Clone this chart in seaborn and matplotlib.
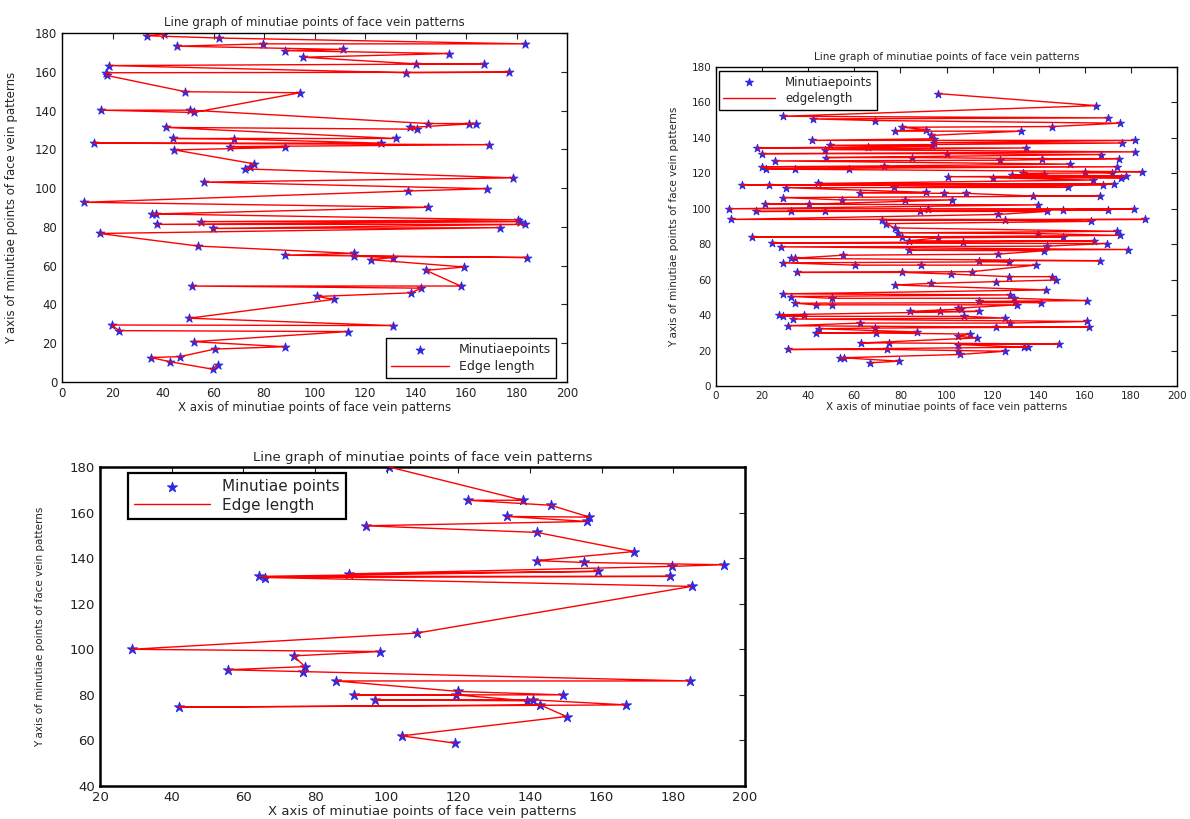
import numpy as np
import pandas as pd
import matplotlib
matplotlib.use('Agg')
import matplotlib.pyplot as plt
import seaborn as sns

# top left panel: minutiae points, in drawing order
left_x = [40.4, 33.6, 62.3, 183.2, 79.6, 45.5, 111.2, 88.3, 153.3, 95.6, 140, 167, 18.8,
          136.4, 177.2, 17.4, 17.8, 48.9, 94.2, 52.1, 15.6, 50.7, 145.1, 161.3, 163.8,
          138, 140.4, 41.2, 132.1, 44.1, 68.2, 126.3, 12.7, 169.2, 66.7, 88.3, 44.5,
          76.2, 74.4, 72.6, 178.8, 56.2, 168.2, 137.2, 8.6, 145.1, 37.2, 35.8, 180.6,
          55, 181.3, 37.5, 183.5, 59.7, 173.3, 14.9, 54, 115.6, 88.3, 184.2, 115.6,
          131.2, 122.2, 159.4, 144.1, 157.9, 51.4, 142.3, 138.2, 101, 107.6, 50.3,
          131.2, 19.7, 22.6, 113.1, 52.1, 88.3, 60.6, 46.7, 35.3, 42.9, 59.7, 61.6]
left_y = [179.5, 178.6, 177.4, 174.4, 174.4, 173.2, 171.5, 170.9, 169.4, 167.5, 164.1, 164.1, 163.2,
          159.5, 159.8, 159.5, 158.1, 149.7, 149.2, 139, 140.2, 140.2, 133.3, 133.3, 133.3,
          131.3, 130.4, 131.3, 125.6, 125.6, 125.3, 123.2, 123.2, 122.4, 121.4, 121, 119.7,
          112.5, 110.8, 109.9, 105.3, 103.1, 99.7, 98.5, 92.7, 90.1, 86.7, 86.7, 83.6,
          82.7, 82.7, 81.3, 81.3, 79.2, 79.6, 76.6, 70.1, 66.3, 65.4, 64.2, 64.9,
          64.2, 63.1, 59.3, 57.6, 49.5, 49.5, 48.4, 46, 44.1, 42.6, 32.9,
          29.1, 29.4, 26.5, 26, 20.8, 18.2, 17, 13.1, 12.6, 10.4, 6.6, 8.7]

# top right panel: minutiae points (joined from top to bottom)
right_x = [96.2, 164.9, 28.9, 42.2, 69.1, 170.2, 175.2, 145.9, 80.5, 77.5, 91.2, 132.2, 93.2,
           94.7, 41.5, 181.6, 176.3, 94.7, 93.5, 49.4, 66.1, 17.9, 47.1, 134.5, 181.6, 19.8,
           100.3, 167.2, 25.8, 47.9, 85.1, 141.3, 174.8, 123.1, 153.5, 19.8, 21.7, 34.2,
           57.8, 72.9, 174, 184.7, 160.3, 133, 171.7, 128.4, 100.8, 177.8, 175.5, 120.1,
           142.1, 11.4, 22.8, 30.4, 44.1, 77.1, 163.4, 168, 172.5, 152.7, 62.3, 91.2, 98.8,
           28.9, 54.7, 82.1, 102.6, 108.4, 137.5, 166.4, 40.3, 21.3, 5.6, 17.2, 32.7, 47.1,
           88.6, 91.9, 139.8, 143.6, 150.5, 170.2, 181.3,
           6.5, 72.2, 73.7, 122.3, 125.4, 162.6, 186.2, 77.5, 79, 80.5, 15.6, 174, 175.2,
           139.8, 150.5, 96.5, 107.1, 83.6, 164.1, 24.3, 28.1, 83.6, 142.1, 143.6, 169.5,
           178.6, 55.2, 32.7, 34.2, 122.3, 166.4, 28.9, 60.3, 88.9, 114, 126.9, 138.8, 35,
           80.5, 101.8, 110.9, 126.9, 145.9, 147.4, 77.5, 93.2, 121.6, 143.3, 28.9, 32.7,
           50.2, 127.7, 129.2, 114, 161.1, 34.2, 43.3, 50.2, 130.7, 140.9, 129.9, 104.9,
           106.4, 84.3, 97.3, 114, 27.4, 28.9, 38, 107.8, 125.4, 33.4, 127.7, 161.1, 62.3,
           31.2, 121.6, 161.8, 44.8, 43.3, 69.1, 69.4, 87.4, 104.9, 110.2, 113.2, 63.1,
           75.2, 148.9, 104.9, 133.7, 135.3, 31.2, 74.4, 104.9, 105.9, 125.4, 53.9, 55.5,
           79.5, 66.9]
right_y = [165, 158.2, 152.2, 150.7, 149.8, 151.3, 148.3, 146.4, 146, 143.8, 144.7, 143.8, 141.4,
           139.5, 138.6, 138.6, 137.1, 137.3, 135.4, 135.8, 134.9, 134.3, 133.4, 134.3, 132.1, 131.1,
           131.1, 130.6, 127, 128.9, 128.9, 128.3, 128.3, 127.4, 125.2, 123.7, 122.4, 122.7,
           122.7, 124.2, 123.7, 120.9, 120.9, 120, 120.3, 119, 118.1, 118.6, 117.5, 117.5,
           119.4, 113.4, 113.4, 111.9, 114.3, 112.1, 116.2, 113.4, 114, 112.1, 109.1, 109.3, 108.7,
           106.3, 105, 105, 105, 108.7, 107.2, 107.2, 102.6, 102.6, 100, 98.5, 98.8, 98.8,
           98.8, 100, 102.2, 98.5, 99.4, 99.4, 100,
           94, 93.5, 91.6, 96.8, 93.5, 92.9, 94, 89.2, 86.4, 84.1, 84.1, 87.3, 85,
           86, 84.1, 83.6, 81.3, 81.9, 81.9, 80.7, 78.5, 76.6, 76.3, 78.9, 80.4,
           77, 73.8, 72, 72, 74.4, 70.7, 69.5, 68.2, 68.2, 70.7, 70.1, 68.2, 64.1,
           64.1, 63.2, 64.5, 61.7, 61.7, 59.8, 57, 57.9, 58.9, 54.2, 52, 50.5,
           49.5, 51.4, 49.5, 47.7, 48.2, 46.7, 45.8, 45.8, 45.8, 47.1, 47.3, 43.9,
           43.4, 42.1, 42.1, 42.1, 40.2, 39.3, 39.8, 39.3, 38.3, 37.8, 35.5, 36.4, 35.5,
           34, 33.3, 33.3, 32.3, 29.9, 32.7, 29.9, 30.5, 28, 29.3, 27.1, 24.3,
           24.3, 23.7, 23.4, 21.9, 21.9, 20.6, 20.6, 20, 17.8, 19.6, 15.9, 15.9,
           14, 13.1]

# bottom panel: minutiae points, in drawing order
bottom_x = [100.7, 138, 122.8, 145.8, 156.6, 133.5, 156, 94.1, 141.9, 169, 141.9, 155.1, 194,
            179.7, 89.5, 159.1, 64.5, 179.1, 66, 185.1, 108.4, 28.8, 98, 74, 77.2, 55.6, 76.7,
            184.7, 85.9, 120, 149.1, 91, 119.3, 139.1, 96.7, 140.9, 166.8, 42, 142.8, 150.2,
            104.2, 119.1]
bottom_y = [180, 165.4, 165.4, 163.2, 158, 158.3, 156.1, 154.2, 151.3, 142.9, 138.9, 138.1, 137.1,
            136.4, 133.1, 134.2, 132, 132, 131.5, 127.6, 107.1, 100, 99, 97.1, 92.4, 91, 90.2,
            86.1, 86.1, 81.5, 80, 80, 80, 77.4, 77.8, 77.8, 75.6, 74.6, 75.6, 70.5,
            62, 58.8]

TITLE = 'Line graph of minutiae points of face vein patterns'
XLAB = 'X axis of minutiae points of face vein patterns'
YLAB = 'Y axis of minutiae points of face vein patterns'

sns.set_style('white')
plt.rcParams['font.family'] = ['DejaVu Sans']

W, H = 1190, 819
fig = plt.figure(figsize=(W / 100, H / 100), dpi=100)


def px_axes(l, t, r, b):
    return fig.add_axes([l / W, 1 - b / H, (r - l) / W, (b - t) / H])


def draw(ax, df, pts_label, edge_label, s, fs, lw_spine):
    sns.scatterplot(data=df, x='x', y='y', marker='*', s=s, color='#2a2ae6',
                    edgecolor='#2a2ae6', linewidth=0.6, label=pts_label, ax=ax, zorder=2)
    sns.lineplot(data=df, x='x', y='y', sort=False, estimator=None, color='red',
                 lw=1.0, label=edge_label, ax=ax, zorder=3)
    ax.tick_params(direction='in', top=True, right=True, length=4, width=0.8,
                   labelsize=fs, colors='#222222')
    for sp in ax.spines.values():
        sp.set_color('black')
        sp.set_linewidth(lw_spine)


# top left
ax1 = px_axes(62, 33, 567, 382)
df1 = pd.DataFrame({'x': left_x, 'y': left_y})
draw(ax1, df1, 'Minutiaepoints', 'Edge length', 45, 8.5, 1.0)
ax1.set_xlim(0, 200)
ax1.set_ylim(0, 180)
ax1.set_xticks(np.arange(0, 201, 20))
ax1.set_yticks(np.arange(0, 181, 20))
ax1.set_title(TITLE, fontsize=8.5, pad=5)
ax1.set_xlabel(XLAB, fontsize=8.5, labelpad=1)
ax1.set_ylabel(YLAB, fontsize=8.5, labelpad=12)
ax1.legend(loc='lower right', bbox_to_anchor=(0.978, 0.011), fontsize=9, frameon=True,
           fancybox=False, edgecolor='black', framealpha=1, borderaxespad=0,
           handlelength=4.6, labelspacing=0.35)

# top right
ax2 = px_axes(716, 67, 1177, 386)
df2 = pd.DataFrame({'x': right_x, 'y': right_y}).sort_values('y', ascending=False, kind='stable')
draw(ax2, df2, 'Minutiaepoints', 'edgelength', 38, 7.5, 1.0)
ax2.set_xlim(0, 200)
ax2.set_ylim(0, 180)
ax2.set_xticks(np.arange(0, 201, 20))
ax2.set_yticks(np.arange(0, 181, 20))
ax2.set_title(TITLE, fontsize=7.5, pad=5)
ax2.set_xlabel(XLAB, fontsize=7.5, labelpad=1)
ax2.set_ylabel(YLAB, fontsize=7.5, labelpad=9)
ax2.legend(loc='upper left', bbox_to_anchor=(0.006, 0.988), fontsize=8.5, frameon=True,
           fancybox=False, edgecolor='black', framealpha=1, borderaxespad=0,
           handlelength=4.4, labelspacing=0.3)

# bottom
ax3 = px_axes(100, 467, 745, 786)
df3 = pd.DataFrame({'x': bottom_x, 'y': bottom_y})
draw(ax3, df3, 'Minutiae points', 'Edge length', 60, 9.5, 1.8)
ax3.set_xlim(20, 200)
ax3.set_ylim(40, 180)
ax3.set_xticks(np.arange(20, 201, 20))
ax3.set_yticks(np.arange(40, 181, 20))
ax3.set_title(TITLE, fontsize=9.5, pad=4)
ax3.set_xlabel(XLAB, fontsize=9.5, labelpad=1)
ax3.set_ylabel(YLAB, fontsize=7.5, labelpad=18)
leg = ax3.legend(loc='upper left', bbox_to_anchor=(0.043, 0.98), fontsize=11, frameon=True,
                 fancybox=False, edgecolor='black', framealpha=1, borderaxespad=0,
                 handlelength=5, labelspacing=0.2)
leg.get_frame().set_linewidth(1.6)

fig.savefig('out.png', dpi=100)
